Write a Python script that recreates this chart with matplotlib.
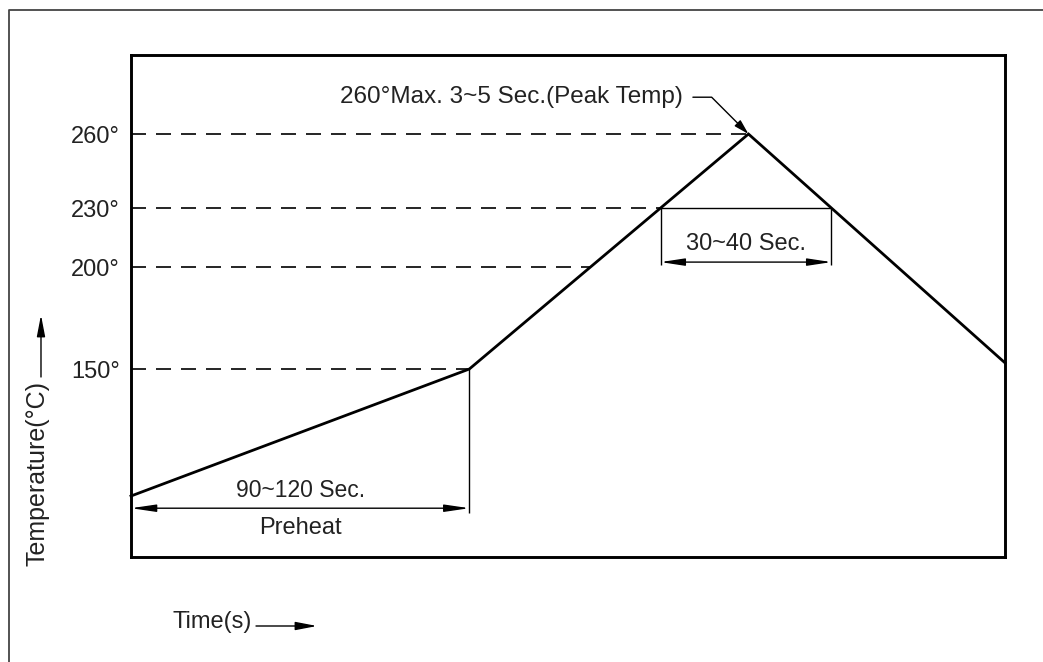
"""Reflow soldering temperature profile (schematic)."""

import numpy as np
import matplotlib.pyplot as plt
from matplotlib.lines import Line2D

plt.rcParams['font.family'] = ['Liberation Sans', 'DejaVu Sans']

# profile vertices: time (schematic seconds) and temperature
time_s = [0, 120, 219, 310]
temp_c = [25, 150, 260, 153]

# reference levels shown on the y axis
levels = [150, 200, 230, 260]
level_labels = ['150°', '200°', '230°', '260°']

preheat_label = '90~120 Sec.'
preheat_name = 'Preheat'
reflow_label = '30~40 Sec.'
peak_label = '260°Max. 3~5 Sec.(Peak Temp)'

# the drawing is schematic: temperature axis is piecewise linear
SCALE_T = [0, 25, 150, 200, 230, 260, 300]
SCALE_POS = [0, 61, 188, 290, 349, 423, 502]

TXT = '#222222'
FS = 17


def fwd(t):
    return np.interp(t, SCALE_T, SCALE_POS)


def inv(p):
    return np.interp(p, SCALE_POS, SCALE_T)


fig = plt.figure(figsize=(10.43, 6.62), dpi=100)
ax = fig.add_axes([0.1256, 0.1586, 0.838, 0.7583])
ax.set_yscale('function', functions=(fwd, inv))
ax.set_xlim(0, 310)
ax.set_ylim(0, 300)

for s in ax.spines.values():
    s.set_linewidth(2.1)
    s.set_color('black')

ax.set_xticks([])
ax.set_yticks(levels)
ax.set_yticklabels(level_labels)
ax.tick_params(axis='y', length=0, pad=8, labelsize=FS, labelcolor=TXT)
ax.yaxis.set_minor_locator(plt.NullLocator())

# profile curve
ax.plot(time_s, temp_c, color='black', lw=2.0, solid_joinstyle='miter',
        clip_on=False, zorder=3)

# where the rising / falling segments cross each level
rise_t = np.interp(fwd(levels), fwd(temp_c[1:3]), time_s[1:3])
fall_230 = np.interp(fwd(230), fwd([temp_c[3], temp_c[2]]), [time_s[3], time_s[2]])
rise_230 = rise_t[levels.index(230)]

for lv, t_end in zip(levels, rise_t):
    ax.plot([0, t_end], [lv, lv], color='black', lw=1.2, dashes=(9, 6), zorder=2)

# 230 reflow window
ax.plot([rise_230, fall_230], [230, 230], color='black', lw=1.0, zorder=2)
ax.vlines([rise_230, fall_230], 201, 230, color='black', lw=1.0)
ax.annotate('', xy=(fall_230, 202.5), xytext=(rise_230, 202.5),
            arrowprops=dict(arrowstyle='<|-|>,head_length=1.45,head_width=0.22',
                            mutation_scale=10, lw=1.0, color='black',
                            shrinkA=0, shrinkB=0))
ax.annotate(reflow_label, xy=((rise_230 + fall_230) / 2, 202.5),
            xytext=(0, 13), textcoords='offset points',
            ha='center', va='center', fontsize=FS, color=TXT)

# preheat window
ax.vlines(time_s[1], 18, temp_c[1], color='black', lw=1.0)
ax.annotate('', xy=(time_s[1], 20), xytext=(time_s[0], 20),
            arrowprops=dict(arrowstyle='<|-|>,head_length=1.5,head_width=0.22',
                            mutation_scale=10, lw=1.0, color='black',
                            shrinkA=0, shrinkB=0))
ax.annotate(preheat_label, xy=(time_s[1] / 2, 20), xytext=(0, 13),
            textcoords='offset points', ha='center', va='center',
            fontsize=16.5, color=TXT)
ax.annotate(preheat_name, xy=(time_s[1] / 2, 20), xytext=(0, -14),
            textcoords='offset points', ha='center', va='center',
            fontsize=FS, color=TXT)

# peak callout
ax.annotate(peak_label, xy=(time_s[2], temp_c[2]), xytext=(-47, 26.5),
            textcoords='offset points', ha='right', va='center',
            fontsize=17.5, color=TXT, annotation_clip=False,
            arrowprops=dict(arrowstyle='-|>,head_length=0.9,head_width=0.25',
                            mutation_scale=10, lw=1.0, color='black',
                            connectionstyle='angle,angleA=0,angleB=-45,rad=0',
                            relpos=(1, 0.5), shrinkA=5, shrinkB=0))

# axis captions with arrows (figure coordinates)
fig.text(0.0355, 1 - 473 / 662, 'Temperature(°C)', rotation=90, ha='center',
         va='center', fontsize=18, color=TXT)
fig.text(0.165, 0.0604, 'Time(s)', ha='left', va='center',
         fontsize=FS, color=TXT)
arrow_kw = dict(arrowstyle='-|>,head_length=1.3,head_width=0.25',
                mutation_scale=10, lw=1.0, color='black', shrinkA=0, shrinkB=0)
ax.annotate('', xy=(0.0393, 1 - 315 / 662), xytext=(0.0393, 1 - 377 / 662),
            xycoords='figure fraction', textcoords='figure fraction',
            arrowprops=arrow_kw)
ax.annotate('', xy=(317 / 1043, 1 - 626 / 662), xytext=(256 / 1043, 1 - 626 / 662),
            xycoords='figure fraction', textcoords='figure fraction',
            arrowprops=arrow_kw)

# outer frame (left and top only)
fig.add_artist(Line2D([9 / 1043, 9 / 1043, 1], [0, 1 - 10 / 662, 1 - 10 / 662],
                      transform=fig.transFigure, color='#444444', lw=1.3))

fig.savefig('out.png', dpi=100)
plt.close(fig)
